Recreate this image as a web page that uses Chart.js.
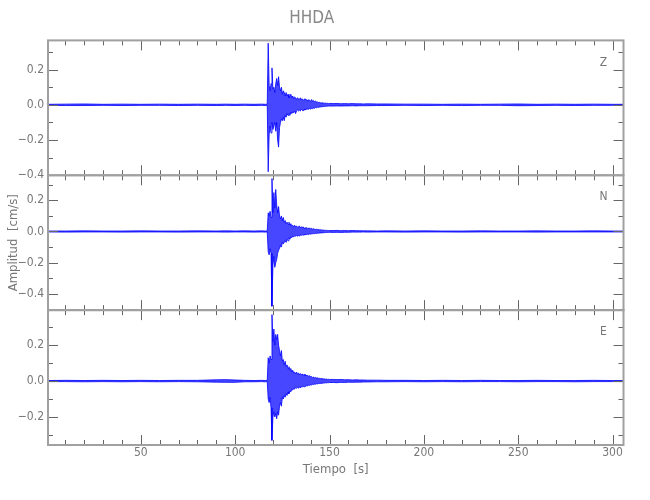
<!DOCTYPE html>
<html>
<head>
<meta charset="utf-8">
<title>HHDA</title>
<script src="https://cdn.jsdelivr.net/npm/chart.js@4.4.1/dist/chart.umd.min.js"></script>
<style>
  html, body { margin: 0; padding: 0; background: #fff; }
  #wrap { width: 650px; height: 500px; }
</style>
</head>
<body>
<div id="wrap"><canvas id="seis" width="650" height="500"></canvas></div>
<script>
// sample times [s]: sparse in the quiet parts, 0.5 s through the strong motion
const times = [
  0.8, 10, 20, 30, 40, 50, 60, 70, 80, 90, 95, 100, 105, 110, 114, 116, 117,
  117.5, 118, 118.5, 119, 119.5, 120, 120.5, 121, 121.5, 122,
  122.5, 123, 123.5, 124, 124.5, 125, 125.5, 126, 126.5, 127,
  127.5, 128, 128.5, 129, 129.5, 130, 130.5, 131, 131.5, 132,
  132.5, 133, 133.5, 134, 134.5, 135, 135.5, 136, 136.5, 137,
  137.5, 138, 138.5, 139, 139.5, 140, 140.5, 141, 141.5, 142,
  142.5, 143, 143.5, 144, 144.5, 145, 145.5, 146, 146.5, 147,
  147.5, 148, 148.5, 149, 149.5, 150,
  152, 154, 156, 158, 160, 162, 164, 166, 168, 170, 175, 180, 190, 200, 210, 220, 230, 240, 250, 260, 270, 280, 290, 300, 305.8
];

// upper / lower envelope of each trace [cm/s]
const zHi = [
  .003, .004, .005, .003, .004, .003, .004, .003, .004, .003, .004, .003, .004, .003, .004, .003, .004,
  .35, .11, .08, .12, .21, .09, .10, .07, .12, .15,
  .11, .16, .10, .08, .10, .06, .08, .07, .05, .07,
  .05, .06, .04, .05, .06, .04, .05, .035, .045, .04,
  .03, .04, .035, .03, .04, .03, .035, .025, .03, .035,
  .025, .03, .02, .03, .025, .02, .03, .02, .025, .018,
  .022, .015, .018, .012, .015, .012, .01, .013, .009, .011,
  .008, .01, .008, .009, .007, .008,
  .007, .008, .006, .007, .006, .007, .006, .006, .005, .006, .005, .005, .004, .004, .003, .004, .003, .004, .005, .003, .004, .003, .004, .003, .003
];
const zLo = [
  -.003, -.004, -.004, -.003, -.004, -.003, -.003, -.004, -.003, -.004, -.003, -.004, -.003, -.004, -.003, -.004, -.003,
  -.38, -.17, -.12, -.16, -.10, -.14, -.12, -.10, -.15, -.10,
  -.20, -.24, -.13, -.10, -.08, -.09, -.07, -.09, -.06, -.07,
  -.05, -.06, -.05, -.06, -.04, -.05, -.04, -.045, -.035, -.05,
  -.035, -.03, -.035, -.03, -.035, -.025, -.03, -.035, -.025, -.03,
  -.02, -.028, -.022, -.025, -.02, -.025, -.018, -.022, -.018, -.02,
  -.015, -.017, -.013, -.015, -.012, -.013, -.01, -.011, -.009, -.01,
  -.008, -.009, -.007, -.008, -.007, -.007,
  -.007, -.006, -.007, -.006, -.006, -.005, -.006, -.005, -.005, -.005, -.004, -.004, -.003, -.004, -.003, -.004, -.003, -.003, -.005, -.004, -.003, -.004, -.003, -.003, -.003
];
const nHi = [
  .003, .003, .004, .003, .003, .004, .003, .003, .004, .003, .004, .003, .004, .003, .004, .003, .004,
  .12, .10, .13, .09, .34, .12, .25, .15, .27, .17,
  .12, .16, .10, .08, .10, .07, .09, .06, .07, .05,
  .06, .045, .06, .04, .05, .035, .04, .03, .04, .03,
  .035, .028, .03, .035, .025, .03, .025, .03, .02, .025,
  .02, .025, .018, .022, .02, .018, .02, .015, .018, .015,
  .013, .015, .012, .013, .01, .012, .009, .01, .008, .009,
  .007, .008, .007, .007, .006, .006,
  .006, .007, .005, .006, .005, .006, .005, .005, .004, .004, .003, .004, .003, .004, .003, .003, .004, .003, .003, .004, .003, .003, .004, .003, .003
];
const nLo = [
  -.003, -.004, -.003, -.003, -.004, -.003, -.003, -.004, -.003, -.003, -.004, -.003, -.003, -.004, -.003, -.004, -.003,
  -.13, -.15, -.11, -.14, -.48, -.22, -.16, -.23, -.20, -.18,
  -.14, -.12, -.11, -.09, -.10, -.07, -.08, -.07, -.06, -.07,
  -.05, -.06, -.04, -.05, -.035, -.04, -.03, -.035, -.028, -.03,
  -.025, -.03, -.025, -.03, -.022, -.025, -.02, -.025, -.02, -.022,
  -.018, -.02, -.017, -.02, -.015, -.017, -.015, -.015, -.013, -.014,
  -.012, -.013, -.011, -.011, -.01, -.01, -.009, -.009, -.008, -.008,
  -.007, -.007, -.006, -.006, -.006, -.005,
  -.006, -.005, -.006, -.005, -.005, -.004, -.004, -.004, -.003, -.004, -.003, -.003, -.004, -.003, -.003, -.004, -.003, -.003, -.003, -.004, -.003, -.003, -.003, -.003, -.003
];
const eHi = [
  .003, .004, .003, .004, .003, .004, .003, .004, .004, .007, .008, .006, .004, .003, .004, .003, .004,
  .13, .10, .14, .12, .37, .22, .29, .20, .26, .23,
  .26, .20, .17, .14, .17, .11, .12, .09, .11, .08,
  .09, .07, .08, .06, .07, .05, .06, .045, .05, .04,
  .05, .04, .045, .035, .042, .035, .04, .03, .038, .03,
  .035, .028, .032, .025, .03, .022, .025, .02, .022, .018,
  .02, .017, .018, .015, .016, .013, .014, .012, .013, .011,
  .012, .01, .011, .009, .01, .009,
  .009, .008, .009, .007, .008, .006, .007, .006, .006, .005, .005, .004, .004, .003, .004, .003, .004, .003, .003, .004, .003, .003, .004, .003, .003
];
const eLo = [
  -.003, -.003, -.004, -.003, -.004, -.003, -.004, -.003, -.004, -.006, -.007, -.007, -.004, -.004, -.003, -.004, -.003,
  -.10, -.12, -.09, -.15, -.33, -.20, -.17, -.20, -.18, -.21,
  -.17, -.19, -.14, -.12, -.14, -.09, -.10, -.08, -.09, -.07,
  -.08, -.06, -.07, -.055, -.06, -.045, -.05, -.04, -.045, -.035,
  -.04, -.035, -.04, -.032, -.038, -.03, -.035, -.028, -.032, -.025,
  -.03, -.024, -.027, -.022, -.025, -.02, -.022, -.018, -.02, -.017,
  -.018, -.015, -.016, -.014, -.014, -.012, -.013, -.011, -.012, -.01,
  -.011, -.009, -.01, -.009, -.009, -.008,
  -.008, -.009, -.007, -.008, -.006, -.007, -.006, -.006, -.005, -.005, -.004, -.004, -.003, -.004, -.003, -.004, -.003, -.003, -.004, -.003, -.003, -.004, -.003, -.003, -.003
];

const xMinorTicks = [10, 20, 30, 40, 50, 60, 70, 80, 90, 100, 110, 120, 130, 140, 150,
  160, 170, 180, 190, 200, 210, 220, 230, 240, 250, 260, 270, 280, 290, 300];
const xMajorTicks = [50, 100, 150, 200, 250, 300];
const yMinorTicks = [-0.5, -0.4, -0.3, -0.2, -0.1, 0, 0.1, 0.2, 0.3];
const yMajorTicks = [-0.4, -0.2, 0, 0.2];

const FONT = "'Liberation Sans Narrow', 'DejaVu Sans Condensed', 'Liberation Sans', sans-serif";
const GREY = '#777';
const BLUE = '#0000ff';

const panels = [
  {axis: 'yZ', label: 'Z', hi: zHi, lo: zLo, min: -0.40, max: 0.366},
  {axis: 'yN', label: 'N', hi: nHi, lo: nLo, min: -0.505, max: 0.361},
  {axis: 'yE', label: 'E', hi: eHi, lo: eLo, min: -0.356, max: 0.395}
];

function isMajor(v, list) {
  return list.some(m => Math.abs(m - v) < 1e-9);
}

function fmtY(v) {
  if (Math.abs(v) < 1e-9) return '0.0';
  return v < 0 ? '\u2212' + (-v).toFixed(1) : v.toFixed(1);
}

function points(vals) {
  return times.map((t, i) => ({x: t, y: vals[i]}));
}

function yScale(p, i) {
  return {
    type: 'linear',
    position: 'left',
    stack: 'seis',
    stackWeight: 1,
    weight: 3 - i,
    min: p.min,
    max: p.max,
    grid: {display: false, drawTicks: false},
    border: {display: false},
    afterBuildTicks: s => {
      s.ticks = yMinorTicks.filter(v => v >= p.min - 1e-9 && v <= p.max + 1e-9).map(v => ({value: v}));
    },
    afterFit: s => { s.width = 48; },
    ticks: {
      autoSkip: false, padding: 4, color: GREY, font: {size: 12},
      callback: v => isMajor(v, yMajorTicks) ? fmtY(v) : ''
    },
    title: {
      display: p.label === 'N', text: 'Amplitud  [cm/s]', color: GREY,
      font: {size: 13}, padding: {top: 6, bottom: 0}
    }
  };
}

// IDL-like boxes with inward ticks on all four sides of every panel
const framePlugin = {
  id: 'frames',
  afterDatasetsDraw(chart) {
    const {ctx, chartArea: {left, right}} = chart;
    const x = chart.scales.x;
    ctx.save();
    panels.forEach(p => {
      const y = chart.scales[p.axis];
      const top = y.top, bottom = y.bottom;
      ctx.strokeStyle = '#666';
      ctx.lineWidth = 1;
      ctx.beginPath();
      xMinorTicks.forEach(v => {
        const px = Math.round(x.getPixelForValue(v)) + 0.5;
        const len = isMajor(v, xMajorTicks) ? 10 : 5;
        ctx.moveTo(px, top); ctx.lineTo(px, top + len);
        ctx.moveTo(px, bottom); ctx.lineTo(px, bottom - len);
      });
      y.ticks.forEach(t => {
        const py = Math.round(y.getPixelForValue(t.value)) + 0.5;
        const len = isMajor(t.value, yMajorTicks) ? 10 : 5;
        ctx.moveTo(left, py); ctx.lineTo(left + len, py);
        ctx.moveTo(right, py); ctx.lineTo(right - len, py);
      });
      ctx.stroke();
      ctx.strokeStyle = '#a0a0a0';
      ctx.lineWidth = 2;
      ctx.strokeRect(left, top, right - left, bottom - top);
      ctx.fillStyle = GREY;
      ctx.font = '12px ' + FONT;
      ctx.textAlign = 'center';
      ctx.textBaseline = 'middle';
      ctx.fillText(p.label, right - 20, top + 22);
    });
    ctx.restore();
  }
};

Chart.defaults.font.family = FONT;

const datasets = [];
panels.forEach(p => {
  datasets.push({
    data: points(p.hi), yAxisID: p.axis, borderColor: BLUE, backgroundColor: 'rgba(0,0,255,0.72)',
    borderWidth: 0.8, pointRadius: 0, tension: 0, fill: '+1'
  });
  datasets.push({
    data: points(p.lo), yAxisID: p.axis, borderColor: BLUE,
    borderWidth: 0.8, pointRadius: 0, tension: 0, fill: false
  });
});

const scales = {
  x: {
    type: 'linear',
    position: 'bottom',
    min: 0.8,
    max: 305.8,
    grid: {display: false, drawTicks: false},
    border: {display: false},
    afterBuildTicks: s => { s.ticks = xMinorTicks.map(v => ({value: v})); },
    afterFit: s => { s.height = 55; },
    ticks: {
      autoSkip: false, maxRotation: 0, padding: 1, color: GREY, font: {size: 12},
      callback: v => isMajor(v, xMajorTicks) ? String(v) : ''
    },
    title: {display: true, text: 'Tiempo  [s]', color: GREY, font: {size: 13}, padding: {top: 0, bottom: 23}}
  }
};
panels.forEach((p, i) => { scales[p.axis] = yScale(p, i); });

new Chart(document.getElementById('seis'), {
  type: 'line',
  data: {datasets: datasets},
  options: {
    responsive: false,
    animation: false,
    events: [],
    layout: {padding: {right: 26.5}},
    scales: scales,
    plugins: {
      legend: {display: false},
      tooltip: {enabled: false},
      title: {
        display: true, text: 'HHDA', color: '#888',
        font: {size: 17, weight: 'normal'}, padding: {top: 8, bottom: 12}
      }
    }
  },
  plugins: [framePlugin]
});
</script>
</body>
</html>
